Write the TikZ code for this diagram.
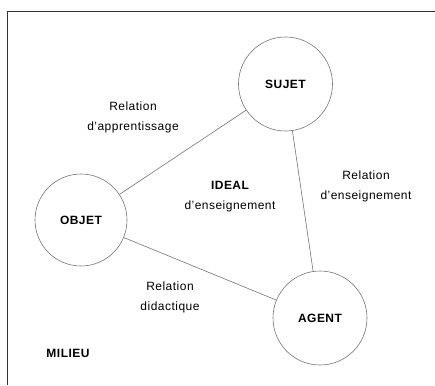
\documentclass[tikz,border=0pt]{standalone}
\usepackage{fontspec}
\setmainfont[LetterSpace=4]{Liberation Sans}
\begin{document}
\begin{tikzpicture}[x=1pt,y=-1pt,
  role/.style={circle,draw=black!55,line width=0.6pt,minimum size=94pt,inner sep=0pt,font=\fontsize{12}{14}\selectfont\bfseries},
  link/.style={draw=black!55,line width=0.6pt},
  lbl/.style={align=center,font=\fontsize{12}{20}\selectfont,inner sep=0pt},
  frame/.style={draw=black!80,line width=1.1pt}]
\useasboundingbox (0,0) rectangle (435,385);
\coordinate (tl) at (7.5,11.5);
\coordinate (tr) at (435,11.5);
\coordinate (bl) at (7.5,385);
\draw[frame] (tr) -- (tl) -- (bl);
\node[role] (sujet) at (285.5,84) {SUJET};
\node[role,minimum size=92pt] (objet) at (81,220) {OBJET};
\node[role] (agent) at (320,318) {AGENT};
\draw[link] (sujet) -- (objet);
\draw[link] (sujet) -- (agent);
\draw[link] (objet) -- (agent);
\node[lbl] (la) at (133,117) {Relation\\d'apprentissage};
\node[lbl] (le) at (366,186) {Relation\\d'enseignement};
\node[lbl] (ld) at (170,297.5) {Relation\\didactique};
\node[lbl] (ideal) at (230,197) {\bfseries IDEAL\\d'enseignement};
\node[lbl,font=\fontsize{12}{14}\selectfont\bfseries] (milieu) at (68,353) {MILIEU};
\end{tikzpicture}
\end{document}
